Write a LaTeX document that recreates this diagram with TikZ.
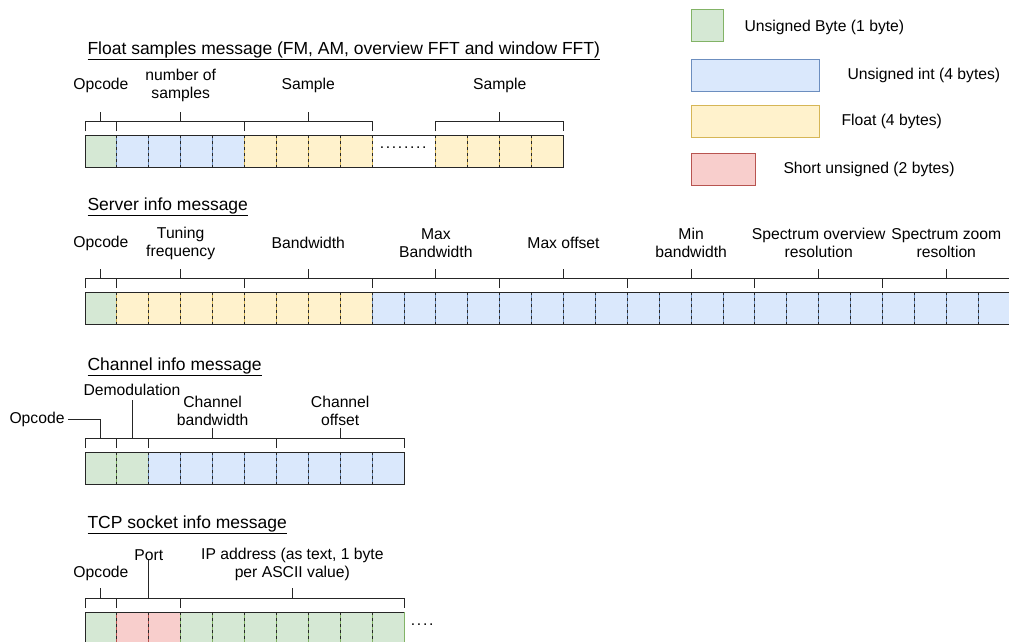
\documentclass[tikz,border=0pt]{standalone}
\usepackage{fontspec}
\setmainfont{Liberation Sans}
\usetikzlibrary{calc}
\definecolor{grnfill}{HTML}{D5E8D4}
\definecolor{grnline}{HTML}{82B366}
\definecolor{blufill}{HTML}{DAE8FC}
\definecolor{bluline}{HTML}{6C8EBF}
\definecolor{ylwfill}{HTML}{FFF2CC}
\definecolor{ylwline}{HTML}{D6B656}
\definecolor{redfill}{HTML}{F8CECC}
\definecolor{redline}{HTML}{B85450}
\definecolor{dkline}{HTML}{262626}

% width of one byte cell
\newcommand{\bw}{31.9}
% #1 top y, #2 first byte, #3 number of bytes, #4 fill, #5 stroke
\newcommand{\bytecells}[5]{%
  \foreach \i in {1,...,#3}
    \fill[#4, draw=#5] ({85+(#2+\i-1)*\bw},#1) rectangle ++(\bw,32);}
% #1 bracket y, #2 first byte, #3 end byte, #4 length of middle tick
\newcommand{\bracketover}[4]{%
  \draw[frame] ({85+(#2)*\bw},#1+10) -- ({85+(#2)*\bw},#1)
    -- ({85+(#3)*\bw},#1) -- ({85+(#3)*\bw},#1+10);
  \draw[frame] ({85+((#2)+(#3))/2*\bw},#1) -- ++(0,-#4);}
% spaced dots for the "more bytes" gaps
\newcommand{\gapdots}[1]{\foreach \d in {1,...,#1}{.\kern1.7pt}}

\begin{document}
\begin{tikzpicture}[x=1pt, y=-1pt, line width=1pt,
  frame/.style={draw=dkline, line width=1pt},
  sep/.style={draw=dkline, line width=1pt, dash pattern=on 3pt off 3pt},
  lbl/.style={font=\fontsize{15.7}{18}\selectfont, align=center, inner sep=0pt},
  ttl/.style={font=\fontsize{17.5}{20}\selectfont, anchor=west, inner sep=0pt},
  legendbox/.style={line width=1pt, minimum width=32pt, minimum height=32pt,
    anchor=north west, inner sep=0pt}]

\useasboundingbox (0,0) rectangle (1009,642);
\clip (0,0) rectangle (1009,642);

% ================================================================
% Legend
% ================================================================
\node[legendbox, draw=grnline, fill=grnfill] (lgbyte) at (691,9) {};
\node[lbl, anchor=west] (lgbytetxt) at (744,27) {Unsigned Byte (1 byte)};
\node[legendbox, draw=bluline, fill=blufill, minimum width=128pt] (lgint) at (691,59) {};
\node[lbl, anchor=west] (lginttxt) at (847,75) {Unsigned int (4 bytes)};
\node[legendbox, draw=ylwline, fill=ylwfill, minimum width=128pt] (lgflt) at (691,105) {};
\node[lbl, anchor=west] (lgflttxt) at (841,121) {Float (4 bytes)};
\node[legendbox, draw=redline, fill=redfill, minimum width=64pt] (lgshort) at (691,153) {};
\node[lbl, anchor=west] (lgshorttxt) at (783,169) {Short unsigned (2 bytes)};

% ================================================================
% Float samples message
% ================================================================
\node[ttl] (ttlfloat) at (87,51)
  {\underline{Float samples message (FM, AM, overview FFT and window FFT)}};

\bytecells{135}{0}{1}{grnfill}{grnline}
\bytecells{135}{1}{4}{blufill}{bluline}
\bytecells{135}{5}{4}{ylwfill}{ylwline}
\bytecells{135}{11}{4}{ylwfill}{ylwline}
\foreach \k in {1,...,9,11,12,13,14}
  \draw[sep] ({85+\k*\bw},135) -- ++(0,32);
\draw[frame] (85,135) rectangle ({85+15*\bw},167);
\node[lbl] (gapfloat) at ({85+10*\bw},148) {\gapdots{8}};

\bracketover{121}{0}{1}{9}
\bracketover{121}{1}{5}{9}
\bracketover{121}{5}{9}{9}
\bracketover{121}{11}{15}{9}
\node[lbl] (opfloat) at ({85+0.5*\bw},85) {Opcode};
\node[lbl] (nsamples) at ({85+3*\bw},85) {number of\\samples};
\node[lbl] (sample1) at ({85+7*\bw},85) {Sample};
\node[lbl] (sample2) at ({85+13*\bw},85) {Sample};

% ================================================================
% Server info message
% ================================================================
\node[ttl] (ttlserver) at (87,207) {\underline{Server info message}};

\bytecells{292}{0}{1}{grnfill}{grnline}
\bytecells{292}{1}{8}{ylwfill}{ylwline}
\bytecells{292}{9}{20}{blufill}{bluline}
\foreach \k in {1,...,28}
  \draw[sep] ({85+\k*\bw},292) -- ++(0,32);
\draw[frame] (85,292) rectangle ({85+29*\bw},324);

\bracketover{278}{0}{1}{9}
\foreach \a in {1,5,...,25}
  \bracketover{278}{\a}{\a+4}{9};
\node[lbl] (opserver) at ({85+0.5*\bw},243) {Opcode};
\node[lbl] (tuning) at ({85+3*\bw},243) {Tuning\\frequency};
\node[lbl] (bandw) at ({85+7*\bw},243) {Bandwidth};
\node[lbl] (maxbw) at ({85+11*\bw},243) {Max\\Bandwidth};
\node[lbl] (maxoff) at ({85+15*\bw},243) {Max offset};
\node[lbl] (minbw) at ({85+19*\bw},243) {Min\\bandwidth};
\node[lbl] (specov) at ({85+23*\bw},243) {Spectrum overview\\resolution};
\node[lbl] (speczm) at ({85+27*\bw},243) {Spectrum zoom\\resoltion};

% ================================================================
% Channel info message
% ================================================================
\node[ttl] (ttlchannel) at (87,367) {\underline{Channel info message}};

\bytecells{452}{0}{2}{grnfill}{grnline}
\bytecells{452}{2}{8}{blufill}{bluline}
\foreach \k in {1,...,9}
  \draw[sep] ({85+\k*\bw},452) -- ++(0,32);
\draw[frame] (85,452) rectangle ({85+10*\bw},484);

\bracketover{438}{0}{1}{0}
\bracketover{438}{1}{2}{38}
\bracketover{438}{2}{6}{10}
\bracketover{438}{6}{10}{10}
\node[lbl] (opchannel) at (37,419) {Opcode};
\draw[frame] ([xshift=3pt]opchannel.east) -| ({85+0.5*\bw},438);
\node[lbl] (demod) at (132,390) {Demodulation};
\node[lbl] (chbw) at ({85+4*\bw},411) {Channel\\bandwidth};
\node[lbl] (choff) at ({85+8*\bw},411) {Channel\\offset};

% ================================================================
% TCP socket info message
% ================================================================
\node[ttl] (ttltcp) at (87,525) {\underline{TCP socket info message}};

\bytecells{612}{0}{1}{grnfill}{grnline}
\bytecells{612}{1}{2}{redfill}{redline}
\bytecells{612}{3}{7}{grnfill}{grnline}
\foreach \k in {1,...,9}
  \draw[sep] ({85+\k*\bw},612) -- ++(0,32);
\draw[frame] ({85+10*\bw},612) -- (85,612) -- (85,644) -- ({85+10*\bw},644);
\node[lbl] (gaptcp) at (423,625) {\gapdots{4}};

\bracketover{598}{0}{1}{10}
\bracketover{598}{1}{3}{38}
\bracketover{598}{3}{10}{10}
\node[lbl] (optcp) at ({85+0.5*\bw},573) {Opcode};
\node[lbl] (port) at ({85+2*\bw},555) {Port};
\node[lbl] (ipaddr) at ({85+6.5*\bw},564) {IP address (as text, 1 byte\\per ASCII value)};

\end{tikzpicture}
\end{document}
